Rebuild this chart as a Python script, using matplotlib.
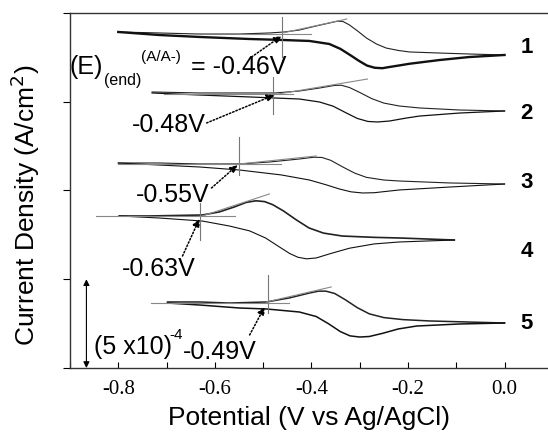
import matplotlib
matplotlib.use("Agg")
from matplotlib import pyplot as plt

# potential (V vs Ag/AgCl) and stacked current density (units of 5x10^-4 A/cm2)
v1_up = [-0.800, -0.715, -0.632, -0.549, -0.487, -0.456, -0.425, -0.390, -0.363, -0.346,
         -0.335, -0.322, -0.305, -0.286, -0.265, -0.245, -0.220, -0.197, -0.135, -0.073, 0.0]
i1_up = [3.786, 3.775, 3.763, 3.763, 3.775, 3.786, 3.808, 3.854, 3.887, 3.908,
         3.905, 3.868, 3.800, 3.718, 3.650, 3.605, 3.578, 3.561, 3.549, 3.538, 3.527]
v1_dn = [-0.800, -0.715, -0.632, -0.528, -0.460, -0.404, -0.363, -0.340, -0.318, -0.301,
         -0.285, -0.269, -0.253, -0.238, -0.217, -0.197, -0.135, -0.073, 0.0]
i1_dn = [3.786, 3.752, 3.730, 3.707, 3.696, 3.685, 3.651, 3.596, 3.520, 3.459,
         3.408, 3.383, 3.378, 3.392, 3.410, 3.428, 3.470, 3.504, 3.527]

v2_up = [-0.730, -0.632, -0.528, -0.475, -0.425, -0.383, -0.352, -0.338, -0.321, -0.300,
         -0.275, -0.250, -0.218, -0.176, -0.093, 0.0]
i2_up = [3.110, 3.099, 3.099, 3.099, 3.121, 3.155, 3.184, 3.186, 3.160, 3.105,
         3.035, 2.985, 2.952, 2.930, 2.907, 2.896]
v2_dn = [-0.730, -0.632, -0.528, -0.475, -0.425, -0.383, -0.355, -0.330, -0.305, -0.283,
         -0.263, -0.238, -0.205, -0.176, -0.093, 0.0]
i2_dn = [3.099, 3.076, 3.054, 3.042, 3.031, 2.997, 2.950, 2.880, 2.812, 2.778,
         2.772, 2.783, 2.815, 2.839, 2.873, 2.896]

v3_up = [-0.800, -0.715, -0.632, -0.549, -0.487, -0.425, -0.395, -0.378, -0.360, -0.335,
         -0.310, -0.286, -0.250, -0.218, -0.114, 0.0]
i3_up = [2.310, 2.310, 2.299, 2.299, 2.321, 2.355, 2.375, 2.372, 2.340, 2.265,
         2.195, 2.148, 2.118, 2.107, 2.085, 2.073]
v3_dn = [-0.800, -0.715, -0.632, -0.549, -0.462, -0.404, -0.370, -0.342, -0.318, -0.294,
         -0.270, -0.245, -0.218, -0.114, 0.0]
i3_dn = [2.310, 2.287, 2.265, 2.231, 2.175, 2.118, 2.065, 2.017, 1.985, 1.972,
         1.975, 1.990, 2.006, 2.039, 2.073]

v4_up = [-0.798, -0.736, -0.626, -0.591, -0.560, -0.535, -0.515, -0.497, -0.480, -0.458,
         -0.431, -0.405, -0.375, -0.336, -0.270, -0.218, -0.104]
i4_up = [1.713, 1.713, 1.724, 1.758, 1.814, 1.866, 1.884, 1.875, 1.840, 1.770,
         1.668, 1.578, 1.520, 1.487, 1.472, 1.465, 1.442]
v4_dn = [-0.798, -0.715, -0.626, -0.570, -0.528, -0.495, -0.466, -0.445, -0.428, -0.410,
         -0.390, -0.360, -0.321, -0.270, -0.218, -0.104]
i4_dn = [1.713, 1.690, 1.656, 1.600, 1.545, 1.465, 1.363, 1.290, 1.248, 1.230,
         1.240, 1.290, 1.350, 1.398, 1.420, 1.442]

v5_up = [-0.698, -0.632, -0.570, -0.493, -0.446, -0.404, -0.385, -0.370, -0.352, -0.330,
         -0.305, -0.280, -0.250, -0.210, -0.155, 0.0]
i5_up = [0.744, 0.744, 0.732, 0.744, 0.789, 0.845, 0.866, 0.866, 0.840, 0.770,
         0.680, 0.610, 0.568, 0.545, 0.530, 0.507]
v5_dn = [-0.698, -0.632, -0.549, -0.493, -0.425, -0.390, -0.365, -0.340, -0.320, -0.300,
         -0.280, -0.253, -0.220, -0.182, -0.093, 0.0]
i5_dn = [0.732, 0.710, 0.676, 0.665, 0.631, 0.580, 0.500, 0.410, 0.362, 0.349,
         0.355, 0.390, 0.440, 0.473, 0.496, 0.507]

# onset construction lines
onset = [-0.46, -0.48, -0.55, -0.63, -0.49]
onset_labels = ["-0.46V", "-0.48V", "-0.55V", "-0.63V", "-0.49V"]
vert_lo = [3.504, 2.862, 2.175, 1.442, 0.620]
vert_hi = [3.955, 3.279, 2.603, 1.859, 1.048]
base_v0 = [-0.55, -0.705, -0.800, -0.846, -0.732]
base_v1 = [-0.40, -0.439, -0.462, -0.558, -0.446]
base_i = [3.763, 3.087, 2.299, 1.713, 0.732]
slope_v = [(-0.460, -0.327), (-0.481, -0.284), (-0.549, -0.390), (-0.626, -0.487), (-0.493, -0.359)]
slope_i = [(3.775, 3.932), (3.076, 3.256), (2.299, 2.389), (1.713, 1.961), (0.744, 0.913)]

arrow_tail = [(-0.524, 3.504), (-0.617, 2.761), (-0.607, 2.028), (-0.667, 1.262), (-0.528, 0.372)]
arrow_head = [(-0.462, 3.741), (-0.477, 3.076), (-0.553, 2.287), (-0.632, 1.679), (-0.497, 0.687)]

curve_names = ["1", "2", "3", "4", "5"]
curve_name_y = [3.606, 2.873, 2.085, 1.318, 0.507]

curves = [(v1_up, i1_up, v1_dn, i1_dn, 0.8, 1.7),
          (v2_up, i2_up, v2_dn, i2_dn, 0.8, 0.9),
          (v3_up, i3_up, v3_dn, i3_dn, 0.8, 0.8),
          (v4_up, i4_up, v4_dn, i4_dn, 1.2, 0.8),
          (v5_up, i5_up, v5_dn, i5_dn, 1.1, 1.1)]

fig = plt.figure(figsize=(5.48, 4.37), dpi=100)
ax = fig.add_axes([70 / 548, 1 - 368 / 437, 1 - 70 / 548, 355 / 437])

for vu, iu, vd, idn, lwu, lwd in curves:
    ax.plot(vu, iu, color="#222222", lw=lwu, solid_joinstyle="round")
    ax.plot(vd, idn, color="#111111", lw=lwd, solid_joinstyle="round")

sans = "Liberation Sans"
for k in range(5):
    ax.plot([onset[k], onset[k]], [vert_lo[k], vert_hi[k]], color="#777777", lw=0.8)
    ax.plot([base_v0[k], base_v1[k]], [base_i[k], base_i[k]], color="#888888", lw=0.8)
    ax.plot(slope_v[k], slope_i[k], color="#888888", lw=0.8)
    ax.annotate("", xy=arrow_head[k], xytext=arrow_tail[k],
                arrowprops=dict(arrowstyle="-|>", linestyle=(0, (1, 1.3)), lw=1.1,
                                color="black", mutation_scale=11, shrinkA=0, shrinkB=0))
    ax.text(0.046, curve_name_y[k], curve_names[k], fontsize=16, fontweight="bold",
            family=sans, va="center", ha="center")

ax.text(-0.9016, 3.392, "(E)", fontsize=18, family=sans, va="center", ha="left")
ax.text(-0.829, 3.245, "(end)", fontsize=11.5, family=sans, va="center", ha="left")
ax.text(-0.752, 3.504, "(A/A-)", fontsize=11, family=sans, va="center", ha="left")
ax.text(-0.649, 3.392, "= " + onset_labels[0], fontsize=18, family=sans, va="center", ha="left")
ax.text(-0.771, 2.738, onset_labels[1], fontsize=18, family=sans, va="center", ha="left")
ax.text(-0.763, 1.949, onset_labels[2], fontsize=18, family=sans, va="center", ha="left")
ax.text(-0.792, 1.115, onset_labels[3], fontsize=18, family=sans, va="center", ha="left")
ax.text(-0.667, 0.180, onset_labels[4], fontsize=18, family=sans, va="center", ha="left")
ax.text(-0.850, 0.237, "(5 x10)", fontsize=18, family=sans, va="center", ha="left")
ax.text(-0.694, 0.372, "-4", fontsize=11, family=sans, va="center", ha="left")

# scale bar = 5x10^-4 A/cm2
ax.annotate("", xy=(-0.866, 1.0), xytext=(-0.866, 0.0),
            arrowprops=dict(arrowstyle="<|-|>", lw=0.8, color="black",
                            mutation_scale=9, shrinkA=0, shrinkB=0))

ax.set_xlim(-0.9, 0.09)
ax.set_ylim(0, 4)
ax.spines["right"].set_visible(False)
for s in ["left", "bottom", "top"]:
    ax.spines[s].set_color("#333333")
    ax.spines[s].set_linewidth(1.0)

ax.set_xticks([-0.8, -0.6, -0.4, -0.2, 0.0])
ax.set_xticklabels(["-0.8", "-0.6", "-0.4", "-0.2", "0.0"], family="Liberation Serif", fontsize=15)
ax.set_xticks([-0.9, -0.7, -0.5, -0.3, -0.1], minor=True)
ax.tick_params(axis="x", which="both", direction="in", length=4, width=0.8, pad=9)
ax.set_yticks([0, 1, 2, 3, 4])
ax.set_yticklabels([])
ax.tick_params(axis="y", direction="out", length=5, width=0.8)

ax.set_xlabel("Potential (V vs Ag/AgCl)", family=sans, fontsize=19, labelpad=5)
ax.set_ylabel("Current Density (A/cm$^2$)", family=sans, fontsize=19)
ax.yaxis.set_label_coords(-0.058, 0.459)

fig.savefig("out.png", dpi=100)
